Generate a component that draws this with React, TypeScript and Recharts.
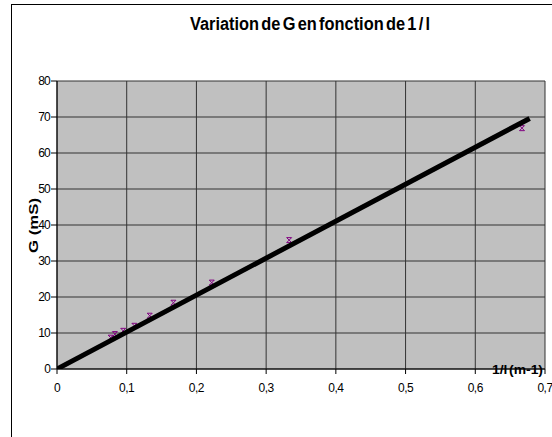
import React from "react";
import { ScatterChart, Scatter, XAxis, YAxis, CartesianGrid } from "recharts";

const invL = [0.077, 0.083, 0.095, 0.111, 0.133, 0.167, 0.222, 0.333, 0.667];
const gValues = [8.7, 9.7, 10.6, 12.0, 14.8, 18.4, 24.0, 35.8, 66.9];
const fitX = [0, 0.678];
const fitY = [0, 69.6];
const xTicks = [0, 0.1, 0.2, 0.3, 0.4, 0.5, 0.6, 0.7];
const yTicks = [0, 10, 20, 30, 40, 50, 60, 70, 80];

const points = invL.map((x, i) => ({ x, y: gValues[i] }));
const fit = fitX.map((x, i) => ({ x, y: fitY[i] }));

const Marker = (props: any) => {
  const { cx, cy } = props;
  if (cx == null || cy == null) return <g />;
  const s = 2.5;
  return (
    <g stroke="#800080" strokeWidth={1} fill="none">
      <line x1={cx - s} y1={cy - s} x2={cx + s} y2={cy + s} />
      <line x1={cx + s} y1={cy - s} x2={cx - s} y2={cy + s} />
      <line x1={cx - s} y1={cy - s} x2={cx + s} y2={cy - s} />
      <line x1={cx - s} y1={cy + s} x2={cx + s} y2={cy + s} />
    </g>
  );
};

const font = "'Liberation Sans', Arial, sans-serif";

export default function App() {
  return (
    <div
      style={{
        position: "absolute",
        left: 0,
        top: 0,
        width: 552,
        height: 437,
        background: "#fff",
        overflow: "hidden",
        fontFamily: font,
      }}
    >
      <div
        style={{
          position: "absolute",
          left: 11,
          top: 4,
          width: 700,
          height: 700,
          borderLeft: "1px solid #000",
          borderTop: "1px solid #000",
        }}
      />
      <ScatterChart
        width={552}
        height={437}
        margin={{ top: 81, right: 7, bottom: 38, left: 17 }}
      >
        <CartesianGrid fill="#C0C0C0" stroke="#333" strokeWidth={1} />
        <XAxis
          type="number"
          dataKey="x"
          domain={[0, 0.7]}
          ticks={xTicks}
          height={30}
          tickSize={5}
          tickMargin={9}
          axisLine={{ stroke: "#000" }}
          tickLine={{ stroke: "#000" }}
          tick={{ fill: "#000", fontSize: 12, fontFamily: font, letterSpacing: -0.5 }}
          tickFormatter={(v: number) => String(v).replace(".", ",")}
          allowDataOverflow
        />
        <YAxis
          type="number"
          dataKey="y"
          domain={[0, 80]}
          ticks={yTicks}
          width={40}
          tickSize={6}
          tickMargin={1}
          axisLine={{ stroke: "#000" }}
          tickLine={{ stroke: "#000" }}
          tick={{ fill: "#000", fontSize: 12, fontFamily: font, letterSpacing: -0.8 }}
          allowDataOverflow
        />
        <Scatter data={points} shape={<Marker />} isAnimationActive={false} />
        <Scatter
          data={fit}
          line={{ stroke: "#000", strokeWidth: 5 }}
          shape={() => <g />}
          isAnimationActive={false}
        />
      </ScatterChart>
      <svg
        width={552}
        height={437}
        style={{ position: "absolute", left: 0, top: 0, pointerEvents: "none" }}
      >
        <text
          x={190}
          y={29.5}
          fontFamily={font}
          fontWeight="bold"
          fontSize={18}
          wordSpacing={-2.5}
          textLength={240}
          lengthAdjust="spacingAndGlyphs"
          fill="#000"
        >
          Variation de G en fonction de 1 / l
        </text>
        <text
          x={0}
          y={0}
          transform="translate(37.5 253) rotate(-90)"
          fontFamily={font}
          fontWeight="bold"
          fontSize={13}
          textLength={55}
          lengthAdjust="spacingAndGlyphs"
          fill="#000"
        >
          G (mS)
        </text>
        <text
          x={492}
          y={374}
          fontFamily={font}
          fontWeight="bold"
          fontSize={12}
          wordSpacing={-2}
          textLength={51}
          lengthAdjust="spacingAndGlyphs"
          fill="#000"
        >
          1/l (m-1)
        </text>
      </svg>
    </div>
  );
}
